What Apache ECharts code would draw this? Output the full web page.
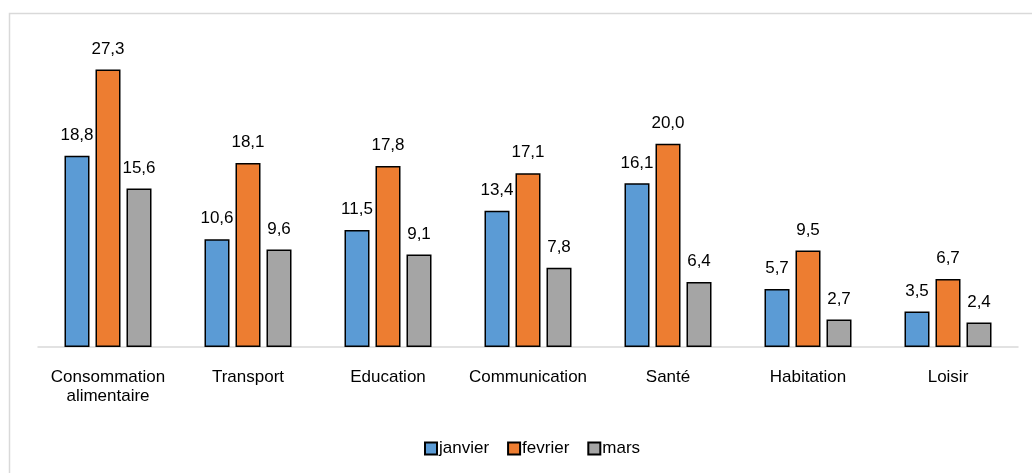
<!DOCTYPE html>
<html lang="fr">
<head>
    <meta charset="UTF-8">
    <title>Dépenses par mois</title>
    <script src="https://cdn.jsdelivr.net/npm/echarts@6/dist/echarts.min.js"></script>
    <style>
        html, body { margin: 0; padding: 0; background: #fff; }
        #chart { width: 1032px; height: 473px; }
    </style>
</head>
<body>
<div id="chart"></div>
<script type="text/javascript">
    var categories = ['Consommation\nalimentaire', 'Transport', 'Education', 'Communication', 'Santé', 'Habitation', 'Loisir'];
    var janvier = [18.8, 10.6, 11.5, 13.4, 16.1, 5.7, 3.5];
    var fevrier = [27.3, 18.1, 17.8, 17.1, 20.0, 9.5, 6.7];
    var mars = [15.6, 9.6, 9.1, 7.8, 6.4, 2.7, 2.4];

    var font = 'Liberation Sans, Arial, sans-serif';

    function barSerie(name, data, color) {
        return {
            name: name,
            type: 'bar',
            data: data,
            barWidth: 25,
            barGap: '24%',
            itemStyle: { color: color, borderColor: '#000', borderWidth: 1.5 },
            label: {
                show: true,
                position: 'top',
                distance: 12,
                color: '#000',
                fontFamily: font,
                fontSize: 17,
                formatter: function (p) { return p.value.toFixed(1).replace('.', ','); }
            }
        };
    }

    var chart = echarts.init(document.getElementById('chart'));
    chart.setOption({
        animation: false,
        graphic: [{
            type: 'rect',
            shape: { x: 9.5, y: 13.5, width: 1100, height: 600 },
            style: { fill: 'none', stroke: '#d9d9d9', lineWidth: 1.5 },
            silent: true
        }],
        legend: {
            bottom: 11,
            left: 419,
            icon: 'rect',
            itemWidth: 12,
            itemHeight: 12,
            itemGap: 18,
            textStyle: { fontFamily: font, fontSize: 17, color: '#000', padding: [0, 0, 0, -3] },
            data: ['janvier', 'fevrier', 'mars']
        },
        grid: { left: 38, right: 14, top: 42, bottom: 126 },
        xAxis: {
            type: 'category',
            data: categories,
            axisLine: { lineStyle: { color: '#d9d9d9', width: 1.5 } },
            axisTick: { show: false },
            axisLabel: { interval: 0, color: '#000', fontFamily: font, fontSize: 17, margin: 21, lineHeight: 19 }
        },
        yAxis: {
            type: 'value',
            min: 0,
            max: 30,
            show: false
        },
        series: [
            barSerie('janvier', janvier, '#5B9BD5'),
            barSerie('fevrier', fevrier, '#ED7D31'),
            barSerie('mars', mars, '#A5A5A5')
        ]
    });
</script>
</body>
</html>
